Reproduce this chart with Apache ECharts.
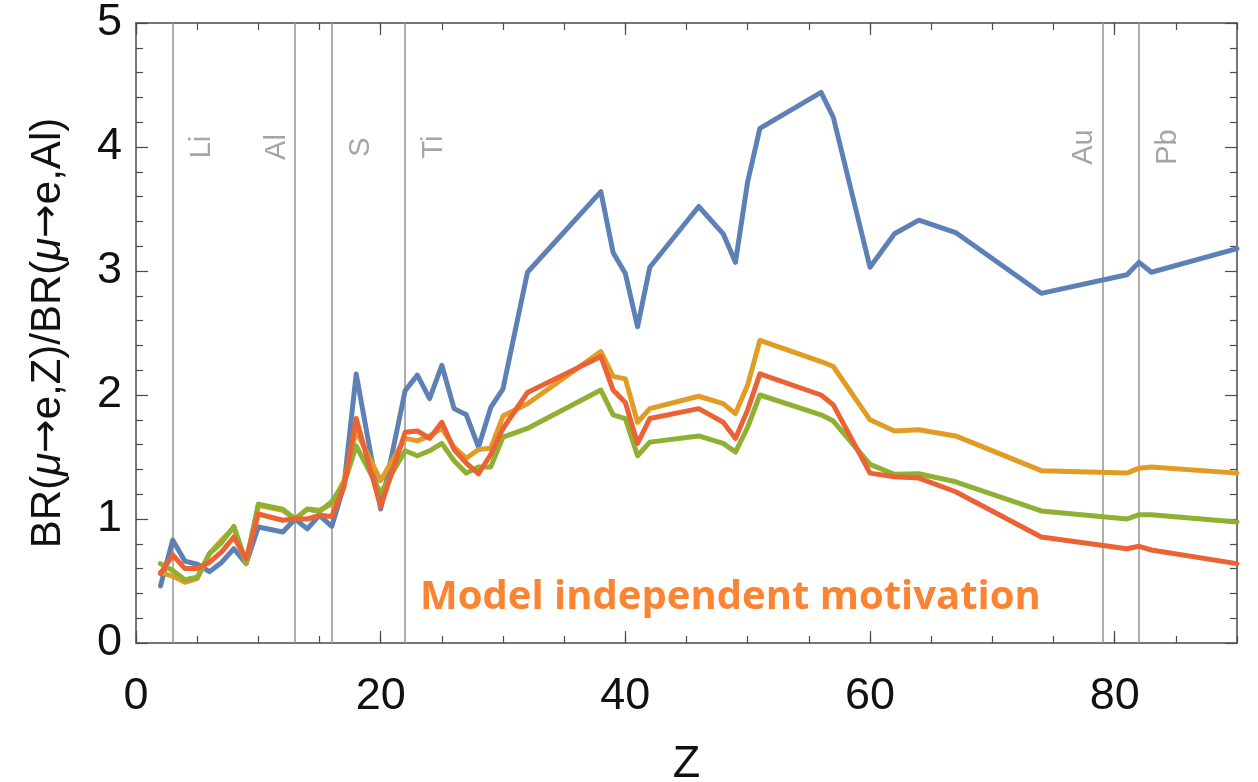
<!DOCTYPE html>
<html>
<head>
<meta charset="utf-8">
<script src="https://cdn.jsdelivr.net/npm/echarts@6/dist/echarts.min.js"></script>
<style>
  html, body { margin: 0; padding: 0; background: #ffffff; }
  #chart { width: 1258px; height: 782px; }
</style>
</head>
<body>
<div id="chart"></div>
<script>
// Atomic number of each target nucleus
const Z = [2, 3, 4, 5, 6, 7, 8, 9, 10, 12, 13, 14, 15, 16, 17, 18, 20, 22, 23, 24, 25, 26, 27, 28, 29, 30,
           32, 38, 39, 40, 41, 42, 46, 48, 49, 50, 51, 56, 57, 60, 62, 64, 67, 74, 81, 82, 83, 90];

// BR(mu->e, Z) / BR(mu->e, Al) for four operator choices
const ratioBlue = [0.46, 0.83, 0.66, 0.635, 0.575, 0.65, 0.76, 0.64, 0.935, 0.895, 1.0, 0.92, 1.03, 0.94, 1.27, 2.17,
                   1.08, 2.035, 2.16, 1.97, 2.24, 1.89, 1.84, 1.58, 1.90, 2.05,
                   2.99, 3.64, 3.15, 2.98, 2.55, 3.03, 3.52, 3.30, 3.07, 3.72, 4.15, 4.44, 4.24, 3.03, 3.30, 3.41, 3.31,
                   2.82, 2.97, 3.07, 2.99, 3.18];
const ratioOrange = [0.57, 0.54, 0.49, 0.52, 0.72, 0.83, 0.93, 0.64, 1.11, 1.07, 1.0, 1.08, 1.07, 1.12, 1.31, 1.71,
                     1.31, 1.65, 1.63, 1.67, 1.73, 1.58, 1.49, 1.56, 1.57, 1.83,
                     1.93, 2.35, 2.15, 2.13, 1.78, 1.89, 1.99, 1.93, 1.85, 2.08, 2.44, 2.27, 2.23, 1.80, 1.71, 1.72, 1.67,
                     1.39, 1.37, 1.41, 1.42, 1.37];
const ratioGreen = [0.64, 0.585, 0.51, 0.53, 0.72, 0.81, 0.94, 0.65, 1.12, 1.08, 1.0, 1.08, 1.06, 1.14, 1.28, 1.59,
                    1.21, 1.55, 1.51, 1.55, 1.61, 1.47, 1.37, 1.42, 1.42, 1.66,
                    1.73, 2.04, 1.84, 1.81, 1.51, 1.62, 1.67, 1.61, 1.54, 1.74, 2.00, 1.84, 1.79, 1.44, 1.36, 1.365, 1.30,
                    1.065, 1.00, 1.035, 1.035, 0.975];
const ratioRed = [0.56, 0.71, 0.60, 0.60, 0.65, 0.735, 0.855, 0.68, 1.04, 0.99, 1.0, 1.0, 1.03, 1.02, 1.26, 1.81,
                  1.10, 1.70, 1.71, 1.65, 1.78, 1.56, 1.45, 1.365, 1.52, 1.73,
                  2.02, 2.31, 2.04, 1.94, 1.61, 1.81, 1.89, 1.78, 1.65, 1.88, 2.17, 2.00, 1.92, 1.37, 1.34, 1.33, 1.22,
                  0.855, 0.76, 0.78, 0.75, 0.64];

// Reference nuclei marked with vertical lines
const elementNames = ['Li', 'Al', 'S', 'Ti', 'Au', 'Pb'];
const elementZ = [3, 13, 16, 22, 79, 82];
const elementLabelSide = [1, -1, 1, 1, -1, 1];   // +1: label right of line, -1: left

// Axis ticks
const xMajorTicks = [0, 20, 40, 60, 80];
const yTicks = [0, 1, 2, 3, 4, 5];

const FONT = "'Liberation Sans', Arial, Helvetica, sans-serif";
const AXIS_COLOR = '#4a4a4a';
const COLORS = { blue: '#5E81B5', orange: '#E19C24', green: '#8FB032', red: '#EB6235' };

const chart = echarts.init(document.getElementById('chart'), null, { renderer: 'canvas' });

function frameX(position, withLabels, major) {
  const ax = {
    type: 'value', position: position, min: 0, max: 90, gridIndex: 0,
    splitLine: { show: false },
    axisLine: { show: major, onZero: false, lineStyle: { color: AXIS_COLOR, width: 1.5 } },
    axisTick: { show: true, inside: true, length: major ? 12 : 7, lineStyle: { color: AXIS_COLOR, width: 1.2 } },
    axisLabel: { show: false }
  };
  if (major) {
    ax.axisTick.customValues = xMajorTicks;
  } else {
    ax.interval = 5;
  }
  if (withLabels) {
    ax.axisLabel = {
      show: true, customValues: xMajorTicks, fontSize: 45, fontFamily: FONT, color: '#111', margin: 31
    };
    ax.name = 'Z';
    ax.nameLocation = 'middle';
    ax.nameGap = 99;
    ax.nameTextStyle = { fontSize: 45, fontFamily: FONT, color: '#111' };
  }
  return ax;
}

function frameY(position, withLabels) {
  const ax = {
    type: 'value', position: position, min: 0, max: 5, interval: 1, gridIndex: 0,
    splitLine: { show: false },
    axisLine: { show: true, onZero: false, lineStyle: { color: AXIS_COLOR, width: 1.5 } },
    axisTick: { show: true, inside: true, length: 12, lineStyle: { color: AXIS_COLOR, width: 1.2 } },
    minorTick: { show: true, splitNumber: 5, length: 7, lineStyle: { color: AXIS_COLOR, width: 1.2 } },
    axisLabel: { show: false }
  };
  if (withLabels) {
    ax.axisLabel = {
      show: true, fontSize: 45, fontFamily: FONT, color: '#111', margin: 14,
      customValues: yTicks
    };
    ax.name = 'BR({m|μ}{a|→}e,Z)/BR({m|μ}{a|→}e,Al)';
    ax.nameLocation = 'middle';
    ax.nameGap = 67;
    ax.nameRotate = 90;
    ax.nameTextStyle = {
      fontSize: 42, fontFamily: FONT, color: '#111',
      rich: {
        m: { fontSize: 42, fontFamily: FONT, fontStyle: 'italic', color: '#111' },
        a: { fontSize: 40, fontFamily: "'DejaVu Sans', sans-serif", color: '#111' }
      }
    };
  }
  return ax;
}

function lineSeries(name, values, color, z) {
  return {
    name: name, type: 'line', xAxisIndex: 0, yAxisIndex: 0,
    data: Z.map((zv, i) => [zv, values[i]]),
    showSymbol: false, symbol: 'none', clip: true, z: z,
    lineStyle: { color: color, width: 5, join: 'round', cap: 'round' },
    emphasis: { disabled: true }
  };
}

const option = {
  backgroundColor: '#ffffff',
  animation: false,
  grid: { left: 136, right: 21, top: 23, bottom: 139, containLabel: false, outerBoundsMode: 'none' },
  xAxis: [
    frameX('bottom', true, false),
    frameX('bottom', false, true),
    frameX('top', false, false),
    frameX('top', false, true)
  ],
  yAxis: [
    frameY('left', true),
    frameY('right', false)
  ],
  series: [
    {
      name: 'nuclei', type: 'line', xAxisIndex: 0, yAxisIndex: 0, data: [], z: 1,
      markLine: {
        silent: true, symbol: 'none', z: 1, animation: false,
        lineStyle: { color: '#9a9a9a', width: 1.6, type: 'solid' },
        label: { show: false },
        emphasis: { disabled: true },
        data: elementZ.map(zv => ({ xAxis: zv }))
      }
    },
    {
      name: 'nucleus labels', type: 'scatter', xAxisIndex: 0, yAxisIndex: 0, symbolSize: 0, z: 2,
      silent: true,
      data: elementZ.map((zv, i) => ({
        value: [zv, 4],
        name: elementNames[i],
        // label is rotated, so its local y axis points to the right on screen
        label: { offset: [0, elementLabelSide[i] > 0 ? 29 : -18] }
      })),
      label: {
        show: true, position: 'inside', rotate: 90,
        formatter: p => p.name,
        fontSize: 29, fontFamily: FONT, color: '#8e8e8e'
      }
    },
    lineSeries('blue', ratioBlue, COLORS.blue, 3),
    lineSeries('orange', ratioOrange, COLORS.orange, 4),
    lineSeries('green', ratioGreen, COLORS.green, 5),
    lineSeries('red', ratioRed, COLORS.red, 6)
  ],
  graphic: [
    {
      type: 'text', left: 420, top: 578, z: 10,
      style: {
        text: 'Model independent motivation',
        font: "bold 40px 'Open Sans', Lato, sans-serif",
        fill: '#FB8433'
      }
    }
  ]
};

chart.setOption(option);
</script>
</body>
</html>
